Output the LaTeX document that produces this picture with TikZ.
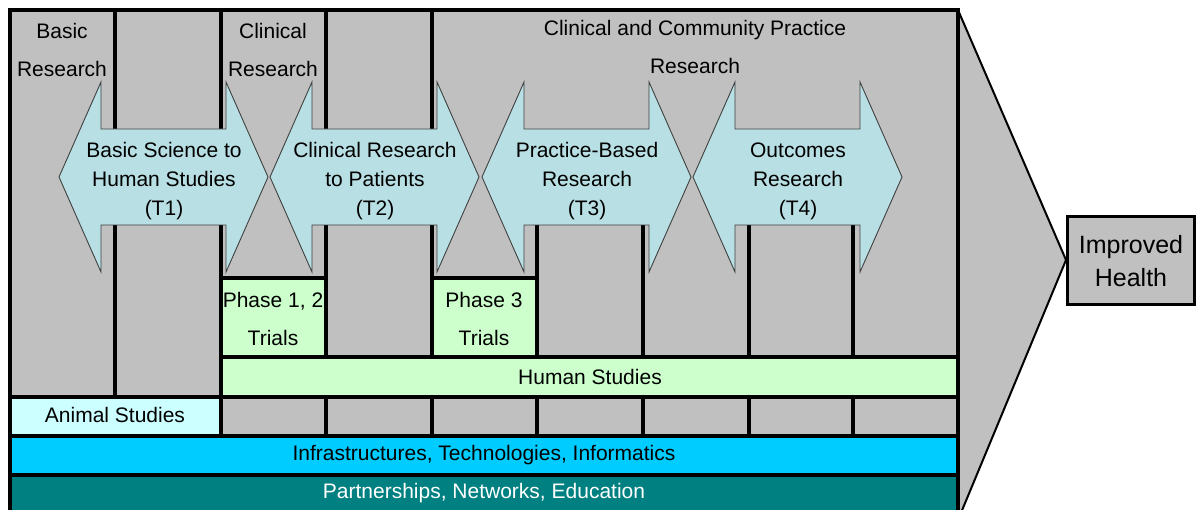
\documentclass[tikz,border=0pt]{standalone}
\usepackage{fontspec}
\setmainfont{Liberation Sans}
\definecolor{bggray}{HTML}{C0C0C0}
\definecolor{arrowfill}{HTML}{B8DFE3}
\definecolor{lgreen}{HTML}{CCFFCC}
\definecolor{lcyan}{HTML}{CCFFFF}
\definecolor{bcyan}{HTML}{00CCFF}
\definecolor{myteal}{HTML}{008080}
\begin{document}
\begin{tikzpicture}[x=1pt,y=-1pt,
  font=\fontsize{21}{29}\selectfont,
  grid/.style={line width=3.5pt},
  tarrow/.style={fill=arrowfill,draw=black!75,line width=0.9pt,line join=miter},
  lbl/.style={align=center,inner sep=0pt},
  tall/.style={font=\fontsize{21}{38}\selectfont}]
\useasboundingbox (0,0) rectangle (1196,510);
\clip (0,0) rectangle (1196,510);
% background
\fill[bggray] (10,10) rectangle (958,520);
\draw[fill=bggray,line width=2pt] (958,10) -- (1066,260) -- (958,520);
% coloured rows
\fill[lgreen] (221,278) rectangle (326,357) (432,278) rectangle (537,357) (221,357) rectangle (958,397);
\fill[lcyan] (10,397) rectangle (221,436);
\fill[bcyan] (10,436) rectangle (958,475);
\fill[myteal] (10,475) rectangle (958,520);
% grid lines
\draw[grid] (115,10) -- (115,397);
\draw[grid] (221,10) -- (221,436);
\foreach \x in {326,432} {\draw[grid] (\x,10) -- (\x,357) (\x,397) -- (\x,436);}
\foreach \x in {537,643,749,853} {\draw[grid] (\x,177) -- (\x,357) (\x,397) -- (\x,436);}
\draw[grid] (221,278) -- (326,278) (432,278) -- (537,278);
\draw[grid] (221,357) -- (958,357);
\foreach \y in {397,436,475} {\draw[grid] (10,\y) -- (958,\y);}
\draw[grid] (10,10) rectangle (958,530);
% arrows
\foreach \xl/\n/\txt in {59/1/{Basic Science to\\Human Studies\\(T1)},270/2/{Clinical Research\\to Patients\\(T2)},482/3/{Practice-Based\\Research\\(T3)},693/4/{Outcomes\\Research\\(T4)}} {
  \draw[tarrow] (\xl,177) -- ++(42,-95) -- ++(0,47) -- ++(125,0) -- ++(0,-47) -- ++(42,95)
     -- ++(-42,95) -- ++(0,-47) -- ++(-125,0) -- ++(0,47) -- cycle;
  \node[lbl] (t\n) at (\xl+105,181) {\txt};
}
% labels
\node[lbl,tall] (basic) at (62,50) {Basic\\Research};
\node[lbl,tall] (clin) at (273,50) {Clinical\\Research};
\node[lbl,tall] (ccp) at (695,47) {Clinical and Community Practice\\Research};
\node[lbl,tall] (ph12) at (273,319) {Phase 1, 2\\Trials};
\node[lbl,tall] (ph3) at (484,319) {Phase 3\\Trials};
\node[lbl] (human) at (590,377) {Human Studies};
\node[lbl] (animal) at (115,415) {Animal Studies};
\node[lbl] (infra) at (484,455) {Infrastructures, Technologies, Informatics};
\node[lbl,text=white] (part) at (484,493) {Partnerships, Networks, Education};
% improved health
\node[draw,fill=bggray,line width=3pt,minimum width=127pt,minimum height=88pt,inner sep=0pt,
  align=center,font=\fontsize{25}{33}\selectfont] (health) at (1131,261) {Improved\\Health};
\end{tikzpicture}
\end{document}
